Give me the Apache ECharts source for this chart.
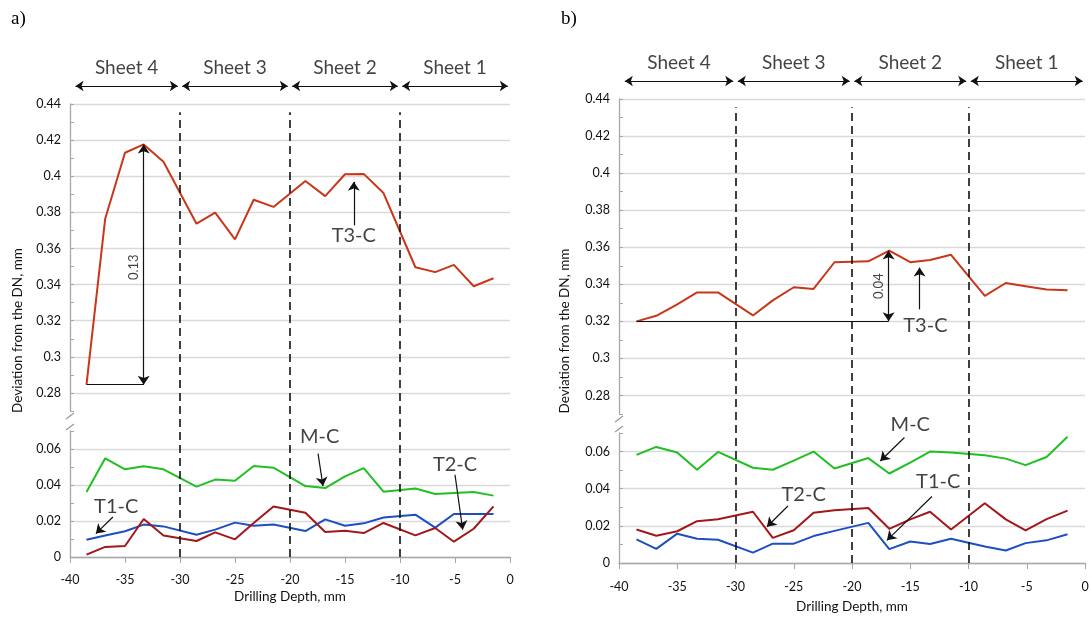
<!DOCTYPE html>
<html>
<head>
<meta charset="utf-8">
<script src="https://cdn.jsdelivr.net/npm/echarts@6/dist/echarts.min.js"></script>
<style>
html, body { margin: 0; padding: 0; background: #fff; }
#chart { width: 1089px; height: 619px; }
</style>
</head>
<body>
<div id="chart"></div>
<script>
// drilling depth of every measuring point, mm (5 points per sheet)
var depth = [-38.5, -36.8, -35.0, -33.3, -31.5, -28.5, -26.8, -25.0, -23.3, -21.5,
             -18.6, -16.8, -15.0, -13.3, -11.5, -8.6, -6.8, -5.1, -3.3, -1.5];

// panel a)
var t3cA = [0.2846, 0.3765, 0.4130, 0.4176, 0.4080, 0.3737, 0.3798, 0.3650, 0.3870, 0.3830,
            0.3974, 0.3890, 0.4011, 0.4013, 0.3907, 0.3496, 0.3469, 0.3509, 0.3391, 0.3435];
var mcA  = [0.0361, 0.0548, 0.0487, 0.0504, 0.0487, 0.0391, 0.0430, 0.0424, 0.0506, 0.0496,
            0.0394, 0.0383, 0.0448, 0.0494, 0.0363, 0.0381, 0.0350, 0.0356, 0.0361, 0.0341];
var t1cA = [0.0096, 0.0119, 0.0143, 0.0180, 0.0170, 0.0124, 0.0152, 0.0191, 0.0174, 0.0181,
            0.0144, 0.0209, 0.0174, 0.0187, 0.0219, 0.0235, 0.0163, 0.0239, 0.0239, 0.0239];
var t2cA = [0.0013, 0.0056, 0.0061, 0.0211, 0.0119, 0.0089, 0.0137, 0.0098, 0.0189, 0.0281,
            0.0246, 0.0139, 0.0146, 0.0133, 0.0189, 0.0120, 0.0161, 0.0085, 0.0157, 0.0281];

// panel b)
var t3cB = [0.3200, 0.3230, 0.3292, 0.3356, 0.3356, 0.3232, 0.3313, 0.3384, 0.3375, 0.3519,
            0.3524, 0.3582, 0.3519, 0.3531, 0.3559, 0.3338, 0.3407, 0.3390, 0.3372, 0.3368];
var mcB  = [0.0582, 0.0625, 0.0595, 0.0502, 0.0598, 0.0513, 0.0502, 0.0551, 0.0600, 0.0509,
            0.0565, 0.0482, 0.0540, 0.0600, 0.0595, 0.0580, 0.0562, 0.0527, 0.0571, 0.0680];
var t1cB = [0.0127, 0.0076, 0.0158, 0.0131, 0.0125, 0.0056, 0.0104, 0.0104, 0.0145, 0.0173,
            0.0216, 0.0075, 0.0116, 0.0102, 0.0131, 0.0089, 0.0067, 0.0107, 0.0122, 0.0155];
var t2cB = [0.0180, 0.0147, 0.0171, 0.0225, 0.0236, 0.0276, 0.0135, 0.0176, 0.0271, 0.0284,
            0.0296, 0.0184, 0.0235, 0.0276, 0.0180, 0.0322, 0.0235, 0.0176, 0.0236, 0.0282];

var sheetNames = ['Sheet 4', 'Sheet 3', 'Sheet 2', 'Sheet 1'];
var sheetSpans = [[-39.5, -30.2], [-29.8, -20.2], [-19.8, -10.2], [-9.8, -0.2]];
var sheetBounds = [-30, -20, -10];

var font = 'Lato, "Open Sans", sans-serif';

// layout of the two panels (pixels)
var panels = [
    { tag: 'a)', tagLeft: 6, left: 70, width: 440, upTop: 104, upH: 307, lowTop: 431, lowH: 126, labMargin: 16, nameGap: 33, yNameGap: 45,
      series: [t3cA, mcA, t1cA, t2cA],
      upText: [['T3-C', -14.2, 0.3670], ['0.13', -34.2, 0.3496, true]],
      upArrows: [[-14.2, 0.3728, -14.2, 0.3969], [-33.3, 0.2846, -33.3, 0.4176, true]],
      upRule: [-38.5, 0.2846, -33.3, 0.2846],
      lowText: [['M-C', -17.3, 0.0668], ['T2-C', -5.0, 0.0512], ['T1-C', -35.8, 0.0281]],
      lowArrows: [[-17.45, 0.0574, -17.0, 0.0394], [-5.0, 0.0457, -4.3, 0.0152], [-36.1, 0.0222, -37.65, 0.0130]] },
    { tag: 'b)', tagLeft: 556, left: 619, width: 466, upTop: 99, upH: 315, lowTop: 433, lowH: 130, labMargin: 17, nameGap: 37, yNameGap: 47,
      series: [t3cB, mcB, t1cB, t2cB],
      upText: [['T3-C', -13.7, 0.3175], ['0.04', -17.7, 0.3390, true]],
      upArrows: [[-14.2, 0.3265, -14.2, 0.3490], [-16.86, 0.3200, -16.86, 0.3582, true]],
      upRule: [-38.5, 0.3200, -16.86, 0.3200],
      lowText: [['M-C', -15.0, 0.0744], ['T1-C', -12.6, 0.0440], ['T2-C', -24.15, 0.0367]],
      lowArrows: [[-15.5, 0.0676, -17.57, 0.0549], [-13.14, 0.0358, -17.0, 0.0122], [-25.5, 0.0307, -27.3, 0.0195]] }
];

var names = ['T3-C', 'M-C', 'T1-C', 'T2-C'];
var colors = ['#c9361a', '#22bf22', '#1d4fc2', '#a3171a'];
var upperIdx = [true, false, false, false];

var grid = [], xAxis = [], yAxis = [], series = [], title = [];

function xAx(gi, show) {
    return {
        type: 'value', gridIndex: gi, min: -40, max: 0, interval: 5, show: show,
        axisLine: { show: true, onZero: false, lineStyle: { color: '#a8a8a8', width: 1.3 } },
        axisTick: { show: true, length: 6, lineStyle: { color: '#a8a8a8' } },
        axisLabel: { color: '#111', fontSize: 12.5, fontFamily: font },
        splitLine: { show: false }
    };
}

function yAx(gi, min, max, colorsArr) {
    return {
        type: 'value', gridIndex: gi, min: min, max: max, interval: 0.01,
        axisLine: { show: true, onZero: false, lineStyle: { color: '#a8a8a8', width: 1.3 } },
        axisTick: { show: true, inside: true, length: 4, lineStyle: { color: '#a8a8a8' } },
        axisLabel: {
            color: '#111', fontSize: 12.5, fontFamily: font, margin: 9,
            formatter: function (v) {
                var h = Math.round(v * 100);
                return h % 2 === 0 ? String(+(v.toFixed(2))) : '';
            }
        },
        splitLine: { show: true, lineStyle: { color: colorsArr, width: 1.3 } }
    };
}

function arrowPairs(list) {
    return list.map(function (a) {
        return [{ coord: [a[0], a[1]], symbol: a[4] ? 'arrow' : 'none' },
                { coord: [a[2], a[3]], symbol: 'arrow' }];
    });
}

function textData(list) {
    return list.map(function (t) {
        var d = { value: [t[1], t[2]], name: t[0] };
        if (t[3]) d.label = { rotate: 90, fontSize: 13 };
        return d;
    });
}

function textSeries(gi, list, arrows, rule) {
    var lines = arrowPairs(arrows);
    if (rule) lines.push([{ coord: [rule[0], rule[1]], symbol: 'none' }, { coord: [rule[2], rule[3]], symbol: 'none' }]);
    return {
        type: 'scatter', xAxisIndex: gi, yAxisIndex: gi, symbolSize: 1, clip: false, silent: true,
        itemStyle: { color: 'rgba(0,0,0,0)' },
        data: textData(list),
        label: { show: true, position: 'inside', formatter: '{b}', fontSize: 20, color: '#111', fontFamily: font },
        markLine: {
            silent: true, animation: false, symbol: ['none', 'arrow'], symbolSize: 9,
            label: { show: false },
            lineStyle: { color: '#111', width: 1.2, type: 'solid' },
            data: lines
        }
    };
}

panels.forEach(function (p, k) {
    var g = k * 4;
    var bottomY = p.lowTop + p.lowH;
    title.push({ text: p.tag, left: p.tagLeft, top: 5, textStyle: { fontFamily: 'Liberation Serif', fontSize: 19, fontWeight: 'normal', color: '#000' } });

    grid.push({ left: p.left, width: p.width, top: p.upTop, height: p.upH, outerBoundsMode: 'none' });
    grid.push({ left: p.left, width: p.width, top: p.lowTop, height: p.lowH, outerBoundsMode: 'none' });
    grid.push({ left: p.left, width: p.width, top: p.upTop, height: bottomY - p.upTop, outerBoundsMode: 'none' });
    grid.push({ left: p.left, width: p.width, top: p.upTop - 46, height: 40, outerBoundsMode: 'none' });

    // upper part (broken axis)
    xAxis.push(xAx(g, false));
    yAxis.push(yAx(g, 0.27, 0.44, ['rgba(0,0,0,0)', '#d9d9d9']));
    // lower part
    var lx = xAx(g + 1, true);
    lx.axisLabel.margin = p.labMargin;
    lx.name = 'Drilling Depth, mm';
    lx.nameLocation = 'middle';
    lx.nameGap = p.nameGap;
    lx.nameTextStyle = { fontSize: 13.5, color: '#111', fontFamily: font };
    xAxis.push(lx);
    yAxis.push(yAx(g + 1, 0, 0.07, ['#d9d9d9', 'rgba(0,0,0,0)']));
    // overlay for sheet borders and the axis name
    xAxis.push(xAx(g + 2, false));
    yAxis.push({
        type: 'value', gridIndex: g + 2, min: 0, max: 1,
        axisLine: { show: false, onZero: false }, axisTick: { show: false }, axisLabel: { show: false }, splitLine: { show: false },
        name: 'Deviation from the DN, mm', nameLocation: 'middle', nameGap: p.yNameGap,
        nameTextStyle: { fontSize: 13.5, color: '#111', fontFamily: font }
    });
    // header with sheet arrows
    xAxis.push(xAx(g + 3, false));
    yAxis.push({ type: 'value', gridIndex: g + 3, min: 0, max: 1, show: false });

    p.series.forEach(function (vals, i) {
        var gi = upperIdx[i] ? g : g + 1;
        series.push({
            name: names[i], type: 'line', xAxisIndex: gi, yAxisIndex: gi,
            data: depth.map(function (d, j) { return [d, vals[j]]; }),
            symbol: 'none', color: colors[i], lineStyle: { color: colors[i], width: 2 },
            silent: true, z: 3
        });
    });

    series.push(textSeries(g, p.upText, p.upArrows, p.upRule));
    series.push(textSeries(g + 1, p.lowText, p.lowArrows, null));

    series.push({
        type: 'line', xAxisIndex: g + 2, yAxisIndex: g + 2, data: [], silent: true,
        markLine: {
            silent: true, animation: false, symbol: ['none', 'none'], label: { show: false },
            lineStyle: { color: '#111', width: 1.6, type: [8, 5] },
            data: sheetBounds.map(function (b) { return [{ coord: [b, 0] }, { coord: [b, 0.982] }]; })
        }
    });

    series.push({
        type: 'scatter', xAxisIndex: g + 3, yAxisIndex: g + 3, symbolSize: 1, silent: true, clip: false,
        itemStyle: { color: 'rgba(0,0,0,0)' },
        data: sheetNames.map(function (n, j) { return { name: n, value: [(sheetSpans[j][0] + sheetSpans[j][1]) / 2, 0.75] }; }),
        label: { show: true, position: 'inside', formatter: '{b}', fontSize: 19, color: '#111', fontFamily: font },
        markLine: {
            silent: true, animation: false, symbol: ['arrow', 'arrow'], symbolSize: 8, label: { show: false },
            lineStyle: { color: '#111', width: 1.2, type: 'solid' },
            data: sheetSpans.map(function (s) { return [{ coord: [s[0], 0.3] }, { coord: [s[1], 0.3] }]; })
        }
    });
});

var chart = echarts.init(document.getElementById('chart'));
chart.setOption({
    animation: false,
    backgroundColor: '#fff',
    textStyle: { fontFamily: font },
    title: title,
    grid: grid,
    xAxis: xAxis,
    yAxis: yAxis,
    series: series
});

// axis break marks
var marks = [];
panels.forEach(function (p, k) {
    var g = k * 4;
    var a = chart.convertToPixel({ xAxisIndex: g, yAxisIndex: g }, [-40, 0.27]);
    var b = chart.convertToPixel({ xAxisIndex: g + 1, yAxisIndex: g + 1 }, [-40, 0.07]);
    [[a[0], a[1] + 5], [b[0], b[1] - 4]].forEach(function (c) {
        marks.push({ type: 'line', silent: true, shape: { x1: c[0] - 4, y1: c[1] + 3, x2: c[0] + 4, y2: c[1] - 3 },
                     style: { stroke: '#999', lineWidth: 1.2 } });
    });
});
chart.setOption({ graphic: marks });
</script>
</body>
</html>
